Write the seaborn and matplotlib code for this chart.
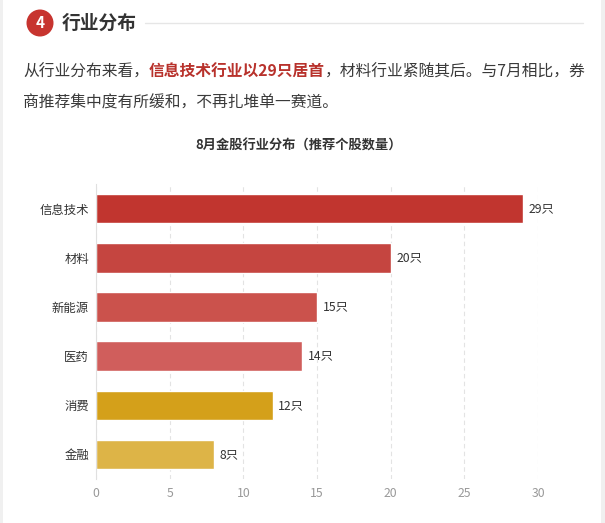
import matplotlib
matplotlib.use("Agg")
import matplotlib.pyplot as plt
from matplotlib.patches import Ellipse, Rectangle
from matplotlib.lines import Line2D
import seaborn as sns
import pandas as pd

# 数据
industries = ["信息技术", "材料", "新能源", "医药", "消费", "金融"]
counts = [29, 20, 15, 14, 12, 8]
bar_colors = ["#c1352f", "#c54540", "#cb524c", "#d05e5c", "#d4a01a", "#ddb447"]
x_ticks = [0, 5, 10, 15, 20, 25, 30]

header = "行业分布"
badge = "4"
para1 = ["从行业分布来看，", "信息技术行业以29只居首", "，材料行业紧随其后。与7月相比，券"]
para2 = "商推荐集中度有所缓和，不再扎堆单一赛道。"
chart_title = "8月金股行业分布（推荐个股数量）"

sns.set_theme(style="white")
plt.rcParams['font.family'] = ['Noto Sans CJK SC', 'DejaVu Sans']

W, H = 605, 523
fig = plt.figure(figsize=(W / 100, H / 100), dpi=100)
fig.patch.set_facecolor("white")


def px(x, y):
    # 像素坐标 -> figure 坐标
    return x / W, 1 - y / H


# 左右灰色边
fig.add_artist(Rectangle((0, 0), 3 / W, 1, transform=fig.transFigure, color="#f0f0f0", lw=0))
fig.add_artist(Rectangle((601 / W, 0), 4 / W, 1, transform=fig.transFigure, color="#f0f0f0", lw=0))

# 标题栏
cx, cy = px(40, 23)
fig.add_artist(Ellipse((cx, cy), 27 / W, 27 / H, transform=fig.transFigure, color="#c7342f", lw=0))
fig.text(cx, cy, badge, color="white", fontsize=11, fontweight="bold", ha="center", va="center")
fig.text(*px(62, 23), header, color="#333333", fontsize=13.5, fontweight="bold", ha="left", va="center")
fig.add_artist(Line2D([145 / W, 583 / W], [1 - 23 / H] * 2, transform=fig.transFigure, color="#e6e6e6", lw=1))

# 正文（分段着色）
renderer = fig.canvas.get_renderer()
x_cur = 23
styles = [("#3a3a3a", "normal"), ("#b8322c", "bold"), ("#3a3a3a", "normal")]
for piece, (col, wt) in zip(para1, styles):
    t = fig.text(*px(x_cur, 72), piece, color=col, fontsize=11.35, fontweight=wt, ha="left", va="center")
    bb = t.get_window_extent(renderer)
    x_cur = bb.x1
fig.text(*px(23, 103), para2, color="#3a3a3a", fontsize=11.35, ha="left", va="center")

# 图表标题
fig.text(*px(299, 146), chart_title, color="#333333", fontsize=9.5, fontweight="bold", ha="center", va="center")

# 柱状图
df = pd.DataFrame({"industry": industries, "count": counts})
left, right = 96 / W, 538 / W
top, bottom = 1 - 184 / H, 1 - 479 / H
ax = fig.add_axes([left, bottom, right - left, top - bottom])
sns.barplot(data=df, x="count", y="industry", hue="industry", palette=bar_colors,
            orient="h", width=0.6, legend=False, ax=ax, saturation=1)

for container in ax.containers:
    ax.bar_label(container, fmt="{:.0f}只", padding=4, fontsize=8.8, color="#333333")

ax.set_xlim(0, 30)
ax.set_ylim(5.5, -0.5)
ax.set_xticks(x_ticks)
ax.set_xlabel("")
ax.set_ylabel("")
ax.grid(axis="x", linestyle=(0, (4, 3)), color="#e3e3e3", lw=0.8)
ax.set_axisbelow(True)
for s in ["top", "right", "bottom"]:
    ax.spines[s].set_visible(False)
ax.spines["left"].set_color("#e0e0e0")
ax.spines["left"].set_linewidth(0.8)
ax.tick_params(axis="x", length=0, pad=6, labelsize=8.8, labelcolor="#999999")
ax.tick_params(axis="y", length=0, pad=5, labelsize=8.9, labelcolor="#333333")

fig.savefig("out.png", dpi=100)
